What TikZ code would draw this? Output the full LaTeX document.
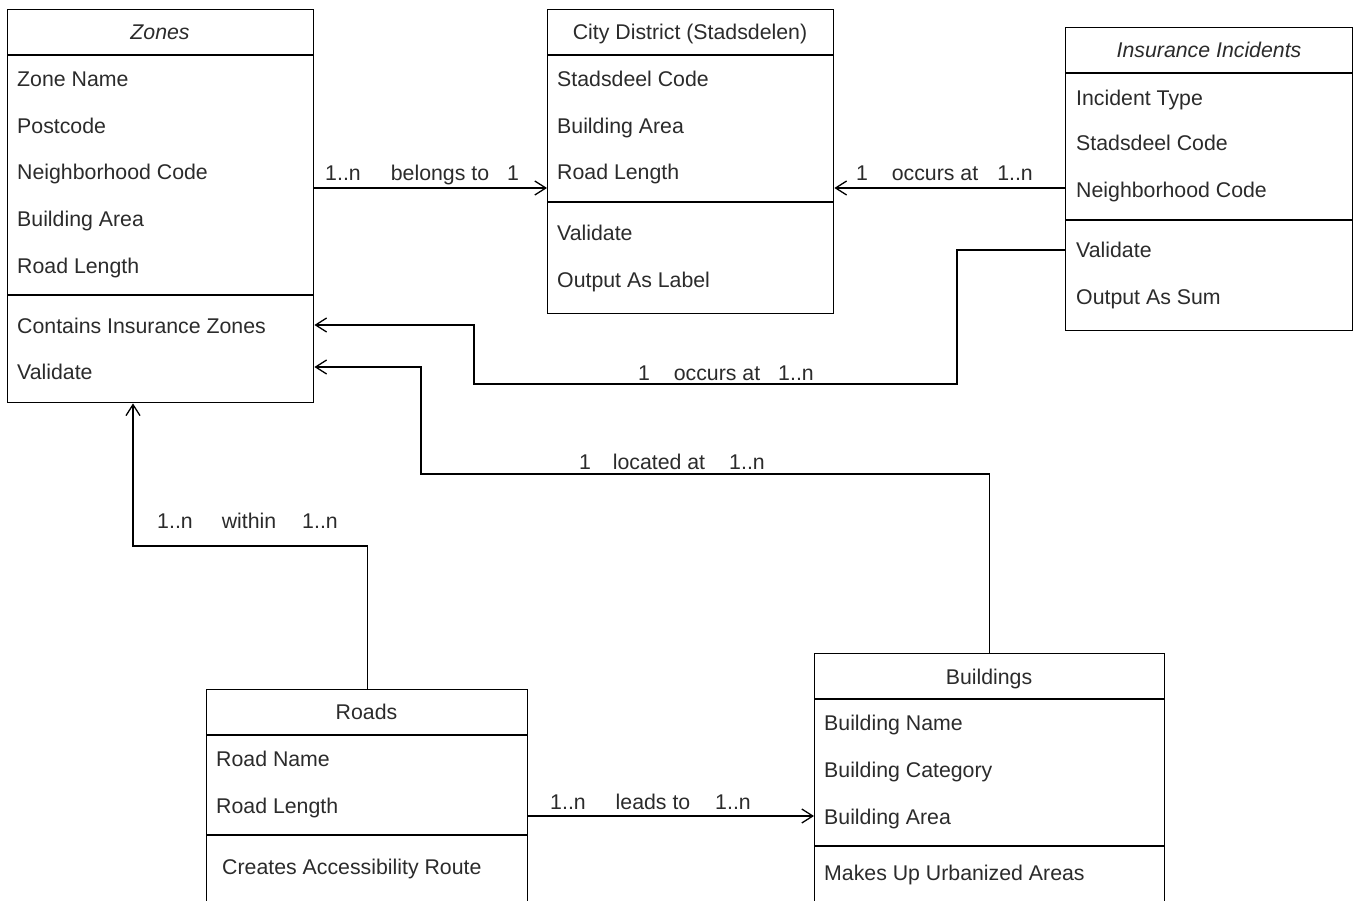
\documentclass[tikz,border=0pt]{standalone}
\usepackage{fontspec}
\setmainfont{Liberation Sans}
\usetikzlibrary{arrows.meta}
\definecolor{ink}{HTML}{000000}
\definecolor{txt}{HTML}{2B2B2B}

\begin{document}
\begin{tikzpicture}[x=1pt,y=-1pt,
  every node/.style={font=\fontsize{21.3}{25}\selectfont, text=txt, inner sep=0pt},
  classbox/.style={draw=ink, line width=1.4pt, anchor=north west, inner sep=0pt},
  divider/.style={draw=ink, line width=1.4pt},
  row/.style={anchor=base west},
  title/.style={anchor=base},
  conn/.style={draw=ink, line width=1.3pt,
    -{Straight Barb[length=11pt,width=14pt,line width=1.3pt]}},
  lbl/.style={anchor=base},
]
\useasboundingbox (0,0) rectangle (1356,901);
\clip (0,0) rectangle (1356,901);
\fill[white] (0,0) rectangle (1356,901);

% ---------- Zones ----------
\node[classbox, minimum width=306pt, minimum height=393pt] (zones) at (7,9) {};
\draw[divider] ([yshift=-46pt]zones.north west) -- ([yshift=-46pt]zones.north east);
\draw[divider] ([yshift=-286pt]zones.north west) -- ([yshift=-286pt]zones.north east);
\node[title] (zt) at (160,39.6) {\itshape Zones};
\node[row] (z1) at (17,86.6) {Zone Name};
\node[row] (z2) at (17,133.6) {Postcode};
\node[row] (z3) at (17,179.6) {Neighborhood Code};
\node[row] (z4) at (17,226.6) {Building Area};
\node[row] (z5) at (17,273.6) {Road Length};
\node[row] (z6) at (17,333.6) {Contains Insurance Zones};
\node[row] (z7) at (17,379.6) {Validate};

% ---------- City District ----------
\node[classbox, minimum width=286pt, minimum height=304pt] (cd) at (547,9) {};
\draw[divider] ([yshift=-46pt]cd.north west) -- ([yshift=-46pt]cd.north east);
\draw[divider] ([yshift=-193pt]cd.north west) -- ([yshift=-193pt]cd.north east);
\node[title] (cdt) at (690,39.6) {City District (Stadsdelen)};
\node[row] (c1) at (557,86.6) {Stadsdeel Code};
\node[row] (c2) at (557,133.6) {Building Area};
\node[row] (c3) at (557,179.6) {Road Length};
\node[row] (c4) at (557,240.6) {Validate};
\node[row] (c5) at (557,287.6) {Output As Label};

% ---------- Insurance Incidents ----------
\node[classbox, minimum width=287pt, minimum height=303pt] (ii) at (1065,27) {};
\draw[divider] ([yshift=-46pt]ii.north west) -- ([yshift=-46pt]ii.north east);
\draw[divider] ([yshift=-193pt]ii.north west) -- ([yshift=-193pt]ii.north east);
\node[title] (iit) at (1209,57.6) {\itshape Insurance Incidents};
\node[row] (i1) at (1076,105.6) {Incident Type};
\node[row] (i2) at (1076,150.6) {Stadsdeel Code};
\node[row] (i3) at (1076,197.6) {Neighborhood Code};
\node[row] (i4) at (1076,257.6) {Validate};
\node[row] (i5) at (1076,304.6) {Output As Sum};

% ---------- Roads ----------
\node[classbox, minimum width=321pt, minimum height=240pt] (roads) at (206,689) {};
\draw[divider] ([yshift=-46pt]roads.north west) -- ([yshift=-46pt]roads.north east);
\draw[divider] ([yshift=-146pt]roads.north west) -- ([yshift=-146pt]roads.north east);
\node[title] (rt) at (366.5,719.6) {Roads};
\node[row] (r1) at (216,766.6) {Road Name};
\node[row] (r2) at (216,813.6) {Road Length};
\node[row] (r3) at (222,874.6) {Creates Accessibility Route};

% ---------- Buildings ----------
\node[classbox, minimum width=350pt, minimum height=280pt] (bld) at (814,653) {};
\draw[divider] ([yshift=-46pt]bld.north west) -- ([yshift=-46pt]bld.north east);
\draw[divider] ([yshift=-193pt]bld.north west) -- ([yshift=-193pt]bld.north east);
\node[title] (bt) at (989,684.6) {Buildings};
\node[row] (b1) at (824,730.6) {Building Name};
\node[row] (b2) at (824,777.6) {Building Category};
\node[row] (b3) at (824,824.6) {Building Area};
\node[row] (b4) at (824,880.6) {Makes Up Urbanized Areas};

% ---------- Associations ----------
\draw[conn] (zones.east |- 0,188) -- (cd.west |- 0,188);
\node[lbl] (l1a) at (343,180.6) {1..n};
\node[lbl] (l1b) at (440,180.6) {belongs to};
\node[lbl] (l1c) at (513,180.6) {1};

\draw[conn] (ii.west |- 0,188) -- (cd.east |- 0,188);
\node[lbl] (l2a) at (862,180.6) {1};
\node[lbl] (l2b) at (935,180.6) {occurs at};
\node[lbl] (l2c) at (1015,180.6) {1..n};

\draw[conn] (ii.west |- 0,250) -| (957,384) -| (474,325) -- (zones.east |- 0,325);
\node[lbl] (l3a) at (644,380.6) {1};
\node[lbl] (l3b) at (717,380.6) {occurs at};
\node[lbl] (l3c) at (796,380.6) {1..n};

\draw[conn] (bld.north) |- (421,474) |- (zones.east |- 0,367);
\node[lbl] (l4a) at (585,469.6) {1};
\node[lbl] (l4b) at (659,469.6) {located at};
\node[lbl] (l4c) at (747,469.6) {1..n};

\draw[conn] (roads.north) |- (133,546) -- (zones.south -| 133,0);
\node[lbl] (l5a) at (175,528.6) {1..n};
\node[lbl] (l5b) at (249,528.6) {within};
\node[lbl] (l5c) at (320,528.6) {1..n};

\draw[conn] (roads.east |- 0,816) -- (bld.west |- 0,816);
\node[lbl] (l6a) at (568,809.6) {1..n};
\node[lbl] (l6b) at (653,809.6) {leads to};
\node[lbl] (l6c) at (733,809.6) {1..n};
\end{tikzpicture}
\end{document}
